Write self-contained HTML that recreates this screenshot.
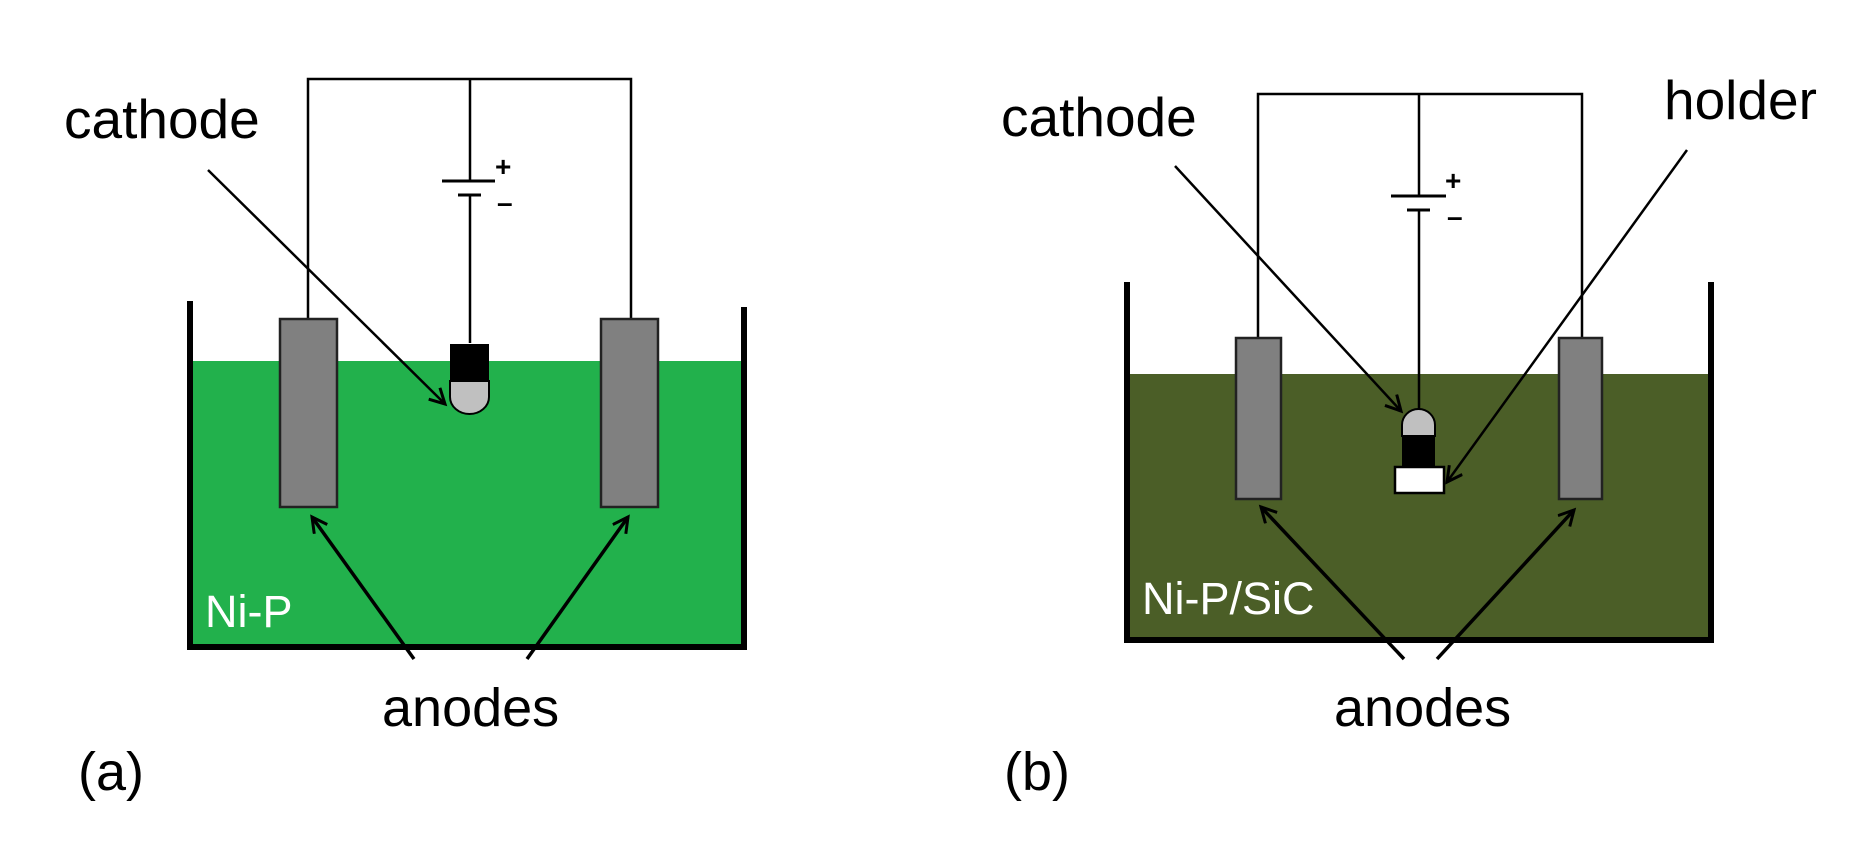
<!DOCTYPE html>
<html><head><meta charset="utf-8"><style>
html,body{margin:0;padding:0;background:#fff;}
svg{display:block;}
text{font-family:"Liberation Sans",sans-serif;}
</style></head><body>
<svg width="1856" height="851" viewBox="0 0 1856 851" xmlns="http://www.w3.org/2000/svg">
<defs>
<marker id="ah" markerWidth="20" markerHeight="20" refX="16" refY="9" orient="auto" markerUnits="userSpaceOnUse">
<path d="M1,1 L16,9 L1,17" fill="none" stroke="#000" stroke-width="3"/>
</marker>
</defs>

<!-- Panel (a) -->
<rect x="190" y="361" width="554" height="286" fill="#22b14c"/>
<polyline points="190,301 190,647 744,647 744,307" fill="none" stroke="#000" stroke-width="6"/>
<polyline points="308,319 308,79 631,79 631,319" fill="none" stroke="#000" stroke-width="2.5"/>
<line x1="470" y1="79" x2="470" y2="181" stroke="#000" stroke-width="2.5"/>
<line x1="442" y1="181" x2="495" y2="181" stroke="#000" stroke-width="3"/>
<line x1="458" y1="195" x2="481" y2="195" stroke="#000" stroke-width="3"/>
<line x1="470" y1="195" x2="470" y2="343" stroke="#000" stroke-width="2.5"/>
<text x="495" y="176" font-size="28" font-weight="bold">+</text>
<text x="497" y="212" font-size="28" font-weight="bold">–</text>
<rect x="280" y="319" width="57" height="188" fill="#808080" stroke="#222" stroke-width="2.5"/>
<rect x="601" y="319" width="57" height="188" fill="#808080" stroke="#222" stroke-width="2.5"/>
<rect x="450" y="344" width="39" height="37" fill="#000"/>
<path d="M450,381 L489,381 L489,397 A19.5,17 0 0 1 450,397 Z" fill="#c0c0c0" stroke="#000" stroke-width="2"/>
<line x1="208" y1="170" x2="445" y2="404" stroke="#000" stroke-width="2.5" marker-end="url(#ah)"/>
<line x1="414" y1="659" x2="312" y2="517" stroke="#000" stroke-width="3.5" marker-end="url(#ah)"/>
<line x1="527" y1="659" x2="628" y2="517" stroke="#000" stroke-width="3.5" marker-end="url(#ah)"/>
<text x="64" y="138" font-size="55">cathode</text>
<text x="205" y="627" font-size="45" fill="#fff">Ni-P</text>
<text x="382" y="726" font-size="54">anodes</text>
<text x="78" y="790" font-size="54">(a)</text>

<!-- Panel (b) -->
<rect x="1127" y="374" width="584" height="266" fill="#4b5e27"/>
<polyline points="1127,282 1127,640 1711,640 1711,282" fill="none" stroke="#000" stroke-width="6"/>
<polyline points="1258,338 1258,94 1582,94 1582,338" fill="none" stroke="#000" stroke-width="2.5"/>
<line x1="1419" y1="94" x2="1419" y2="196" stroke="#000" stroke-width="2.5"/>
<line x1="1391" y1="196" x2="1446" y2="196" stroke="#000" stroke-width="3"/>
<line x1="1407" y1="210" x2="1430" y2="210" stroke="#000" stroke-width="3"/>
<line x1="1419" y1="210" x2="1419" y2="410" stroke="#000" stroke-width="2.5"/>
<text x="1445" y="190" font-size="28" font-weight="bold">+</text>
<text x="1447" y="226" font-size="28" font-weight="bold">–</text>
<rect x="1236" y="338" width="45" height="161" fill="#808080" stroke="#222" stroke-width="2.5"/>
<rect x="1559" y="338" width="43" height="161" fill="#808080" stroke="#222" stroke-width="2.5"/>
<path d="M1402,436 L1402,425 A16.5,16 0 0 1 1435,425 L1435,436 Z" fill="#c0c0c0" stroke="#000" stroke-width="2"/>
<rect x="1402" y="436" width="33" height="31" fill="#000"/>
<rect x="1395" y="467" width="49" height="26" fill="#fff" stroke="#000" stroke-width="2.5"/>
<line x1="1175" y1="166" x2="1401" y2="411" stroke="#000" stroke-width="2.5" marker-end="url(#ah)"/>
<line x1="1687" y1="150" x2="1447" y2="482" stroke="#000" stroke-width="2.5" marker-end="url(#ah)"/>
<line x1="1404" y1="659" x2="1261" y2="507" stroke="#000" stroke-width="3.5" marker-end="url(#ah)"/>
<line x1="1437" y1="659" x2="1574" y2="510" stroke="#000" stroke-width="3.5" marker-end="url(#ah)"/>
<text x="1001" y="136" font-size="55">cathode</text>
<text x="1664" y="119" font-size="55">holder</text>
<text x="1142" y="614" font-size="45" fill="#fff">Ni-P/SiC</text>
<text x="1334" y="726" font-size="54">anodes</text>
<text x="1004" y="790" font-size="54">(b)</text>
</svg>
</body></html>
